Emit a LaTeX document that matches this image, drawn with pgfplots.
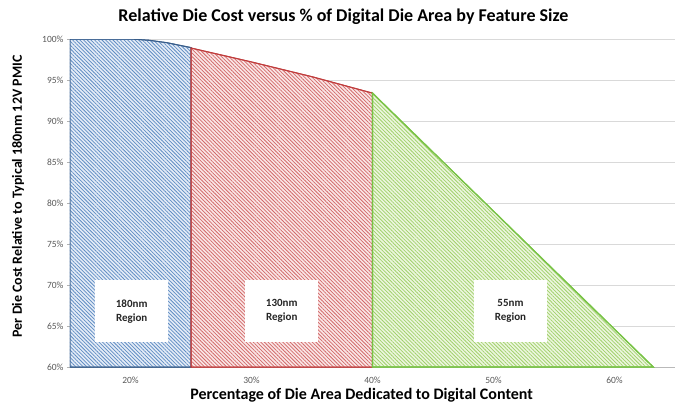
\documentclass[border=0pt]{standalone}
\usepackage{pgfplots}
\pgfplotsset{compat=1.18}
\usepackage{fontspec}
\setmainfont{Carlito}
\usetikzlibrary{patterns.meta}

\definecolor{blueline}{RGB}{95,140,195}
\definecolor{blueedge}{RGB}{56,93,138}
\definecolor{bluebg}{RGB}{228,236,247}
\definecolor{redline}{RGB}{210,105,105}
\definecolor{rededge}{RGB}{192,60,60}
\definecolor{redbg}{RGB}{250,230,230}
\definecolor{greenline}{RGB}{160,208,105}
\definecolor{greenedge}{RGB}{120,195,70}
\definecolor{greenbg}{RGB}{236,246,222}
\definecolor{gridgray}{RGB}{217,217,217}
\definecolor{ticktext}{RGB}{89,89,89}

\begin{document}
\begin{tikzpicture}
\path[use as bounding box] (-70pt,-38pt) rectangle (614pt,367pt);
\begin{axis}[
  scale only axis,
  width=605pt, height=328pt,
  xmin=15, xmax=65, ymin=60, ymax=100,
  axis lines*=left,
  axis line style={gray!55},
  tick align=outside,
  xtick={20,30,40,50,60},
  xticklabel={\pgfmathprintnumber{\tick}\%},
  xtick style={draw=none},
  minor xtick={15,25,35,45,55,65},
  minor tick length=4pt,
  minor x tick style={gray!60},
  ytick={60,65,...,100},
  yticklabel={\pgfmathprintnumber{\tick}\%},
  ytick style={gray!60},
  major tick length=3pt,
  ymajorgrids,
  grid style={gridgray, line width=0.9pt},
  /pgf/number format/assume math mode=true,
  ticklabel style={font=\fontsize{9.5}{11}\selectfont, text=ticktext},
  xticklabel style={yshift=-3pt},
  title={Relative Die Cost versus \% of Digital Die Area by Feature Size},
  title style={font=\fontsize{18}{20}\selectfont\bfseries, at={(axis description cs:0.452,1)}, anchor=base, yshift=12pt},
  xlabel={Percentage of Die Area Dedicated to Digital Content},
  xlabel style={font=\fontsize{16}{18}\selectfont\bfseries, at={(axis description cs:0.482,0)}, anchor=base, yshift=-32pt},
  ylabel={Per Die Cost Relative to Typical 180nm 12V PMIC},
  ylabel style={font=\fontsize{14}{16}\selectfont\bfseries, at={(axis description cs:-0.086,0.52)}, anchor=center},
]
% 180nm region
\addplot[draw=blueedge, line width=1pt, fill=bluebg,
  postaction={pattern={Lines[angle=-45,distance=2.6pt,line width=0.75pt]}, pattern color=blueline}]
  coordinates {(15,60) (15,100) (20,100) (21.5,99.85) (23,99.55) (25,98.95) (25,60)} -- cycle;
% 130nm region
\addplot[draw=rededge, line width=1pt, fill=redbg,
  postaction={pattern={Lines[angle=-45,distance=2.6pt,line width=0.75pt]}, pattern color=redline}]
  coordinates {(25,60) (25,98.9) (30,97.2) (35,95.4) (40,93.4) (40,60)} -- cycle;
% 55nm region
\addplot[draw=greenedge, line width=1.2pt, fill=greenbg,
  postaction={pattern={Lines[angle=-45,distance=2.6pt,line width=0.75pt]}, pattern color=greenline}]
  coordinates {(40,60) (40,93.4) (63.2,60)} -- cycle;

\tikzset{region/.style={fill=white, minimum width=73pt, minimum height=62pt, align=center,
  font=\fontsize{11}{14}\selectfont\bfseries, text=black!85}}
\node[region] at (axis cs:20.1,66.8) {180nm\\Region};
\node[region] at (axis cs:32.5,66.8) {130nm\\Region};
\node[region] at (axis cs:51.4,66.8) {55nm\\Region};
\end{axis}
\end{tikzpicture}
\end{document}
